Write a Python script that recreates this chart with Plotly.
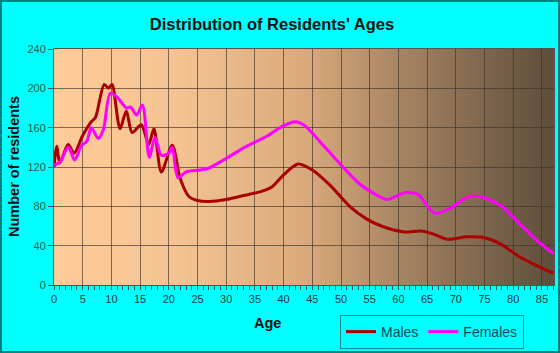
import plotly.graph_objects as go

# ---- data ----
male_ages = [0, 0.5, 1, 2, 2.5, 3.5, 5, 6.5, 7.2, 8.75, 9.5, 10.1, 11.5, 12.6, 13.6,
             15.2, 16.5, 17.4, 18.7, 20.6, 22, 23.5, 25, 27, 30, 33, 36, 38, 40, 42.5,
             45, 48, 51.5, 54.5, 57, 61, 64, 66, 68.5, 72, 75, 78, 81, 84, 87]
male_vals = [120, 141, 124, 138, 143, 134, 152, 166, 170, 204, 200, 204, 159, 177, 155,
             163, 143, 159, 115, 142, 108, 90, 86, 85, 87, 91, 95, 100, 112, 123,
             117, 102, 80, 67, 60, 54, 55, 52, 46.5, 49, 48, 41, 29, 20, 12]

female_ages = [0, 1, 2.5, 3.6, 4.8, 5.7, 6.5, 7.7, 8.6, 9.8, 11, 12.6, 13.3, 14.4, 15.4,
               16.6, 17.6, 18.7, 20, 20.6, 21.6, 23, 25.5, 27, 29.5, 33.5, 37, 40, 42,
               43.7, 46.3, 49.7, 53.2, 56.7, 58, 61.3, 63.4, 66.3, 69, 72.3, 75.3, 78,
               81, 84, 87]
female_vals = [122, 125, 140, 127, 142, 146, 160, 149, 158, 195, 191, 180, 181, 173, 183,
               130, 150, 132, 134, 140, 109, 115, 117, 119, 127, 141, 151, 162, 166,
               162, 146, 124, 103, 90, 87, 94, 92, 73, 78, 90, 88, 80,
               63, 46, 32]

x_ticks = list(range(0, 90, 5))
y_ticks = list(range(0, 241, 40))

W, H = 560, 353
L, R, T, B = 54, 6, 49, 68

fig = go.Figure()
fig.add_trace(go.Scatter(x=male_ages, y=male_vals, name="Males", mode="lines",
                         line=dict(color="#AA0000", width=3, shape="spline", smoothing=0.8)))
fig.add_trace(go.Scatter(x=female_ages, y=female_vals, name="Females", mode="lines",
                         line=dict(color="#FF00FF", width=3, shape="spline", smoothing=0.8)))

# gradient plot background
def lerp(c1, c2, t):
    return tuple(round(a + (b - a) * t) for a, b in zip(c1, c2))

stops = [(0.0, (255, 204, 153)), (0.25, (245, 195, 146)), (0.5, (218, 170, 124)),
         (0.75, (152, 122, 92)), (1.0, (94, 77, 59))]

def grad(t):
    for (t0, c0), (t1, c1) in zip(stops[:-1], stops[1:]):
        if t <= t1:
            return lerp(c0, c1, (t - t0) / (t1 - t0))
    return stops[-1][1]

shapes = []
n = 120
for i in range(n):
    c = grad((i + 0.5) / n)
    shapes.append(dict(type="rect", xref="x domain", yref="y domain",
                       x0=i / n, x1=(i + 1) / n + 0.002, y0=0, y1=1, layer="below",
                       line=dict(width=0), fillcolor="rgb(%d,%d,%d)" % c))
pw, ph = W - L - R, H - T - B
shapes.append(dict(type="rect", xref="paper", yref="paper",
                   x0=-(L - 1) / pw, x1=1 + (R - 1) / pw, y0=-(B - 1) / ph, y1=1 + (T - 1) / ph,
                   line=dict(color="#007F7F", width=2), layer="above"))

fig.update_layout(
    width=W, height=H,
    margin=dict(l=L, r=R, t=T, b=B, autoexpand=False),
    paper_bgcolor="#00FFFF", plot_bgcolor="#FFCC99",
    shapes=shapes,
    font=dict(family="Liberation Sans, Arial, sans-serif"),
    title=dict(text="<b>Distribution of Residents' Ages</b>", x=272 / W, xanchor="center",
               y=1 - 24 / H, yanchor="middle", yref="container",
               font=dict(size=16.5, color="#111111")),
    showlegend=True,
    legend=dict(orientation="h", x=(524 - L) / pw, xanchor="right",
                y=(285 - 315) / ph, yanchor="top",
                bgcolor="#00FFFF", bordercolor="#008B8B", borderwidth=1,
                font=dict(size=14, color="#0B4A55"), itemwidth=30, tracegroupgap=0),
    annotations=[
        dict(text="<b>Age</b>", xref="paper", yref="paper", x=(267 - L) / pw,
             y=(285 - 323) / ph, showarrow=False, xanchor="center", yanchor="middle",
             font=dict(size=14.5, color="#111111")),
        dict(text="<b>Number of residents</b>", xref="paper", yref="paper",
             x=(14 - L) / pw, y=0.5, showarrow=False, textangle=-90,
             xanchor="center", yanchor="middle", font=dict(size=14.5, color="#111111")),
    ],
)
fig.update_xaxes(range=[0, 87.1], tickvals=x_ticks, showgrid=True, gridcolor="rgba(60,50,40,0.65)",
                 gridwidth=1, ticks="outside", ticklen=4, tickcolor="#1F5F5F",
                 minor=dict(dtick=1, ticks="outside", ticklen=4, tickcolor="#1F5F5F", showgrid=False),
                 tickfont=dict(size=11, color="#123838", family="Liberation Sans, Arial"),
                 tickprefix="<b>", ticksuffix="</b>",
                 showline=True, linecolor="#555555", mirror=True, zeroline=False)
fig.update_yaxes(range=[0, 240], tickvals=y_ticks, showgrid=True, gridcolor="rgba(60,50,40,0.65)",
                 gridwidth=1, ticks="outside", ticklen=5, tickcolor="#555555",
                 tickfont=dict(size=11, color="#1E6040"),
                 showline=True, linecolor="#555555", mirror=True, zeroline=False)

fig.write_html("out.html")
